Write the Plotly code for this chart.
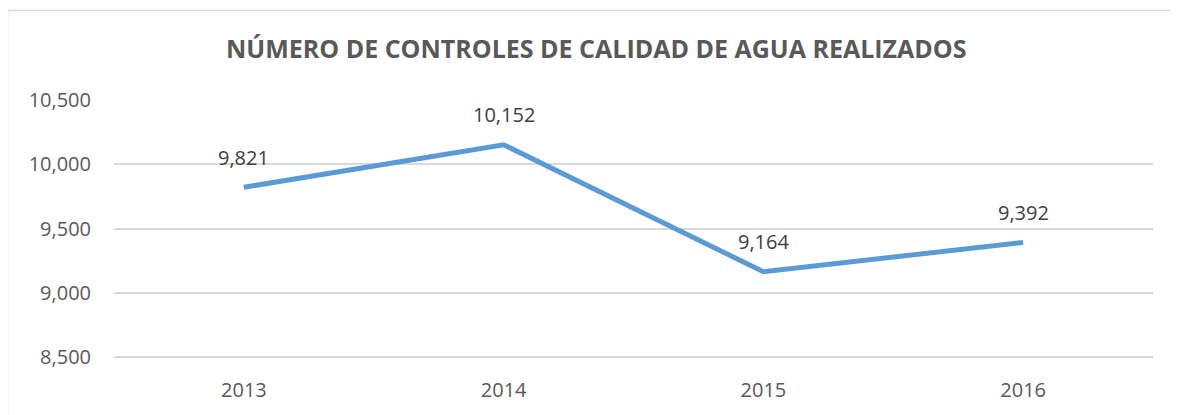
import plotly.graph_objects as go

years = ["2013", "2014", "2015", "2016"]
values = [9821, 10152, 9164, 9392]
y_ticks = [8500, 9000, 9500, 10000, 10500]
title_text = "NÚMERO DE CONTROLES DE CALIDAD DE AGUA REALIZADOS"

LINE = "#5B9BD5"
TXT = "#595959"
GRID = "#D9D9D9"
FONT = "Open Sans"

fig = go.Figure()
fig.add_trace(go.Scatter(
    x=years, y=values, mode="lines",
    line=dict(color=LINE, width=5),
    hoverinfo="skip", showlegend=False,
))

for i, v in enumerate(values):
    fig.add_annotation(
        x=i, y=v, xref="x", yref="y", text=f"{v:,}", showarrow=False,
        yshift=30, font=dict(family=FONT, size=20, color="#404040"),
    )

fig.add_annotation(
    xref="paper", yref="paper", x=0.464, y=1.2, yanchor="middle",
    text=f"<b>{title_text}</b>", showarrow=False,
    font=dict(family=FONT, size=25, color=TXT),
)

# chart border (left and top edges visible)
fig.add_shape(type="line", xref="paper", yref="paper",
              x0=-0.1025, x1=-0.1025, y0=-1, y1=1.346,
              line=dict(color=GRID, width=1.5))
fig.add_shape(type="line", xref="paper", yref="paper",
              x0=-0.1025, x1=1.5, y0=1.346, y1=1.346,
              line=dict(color=GRID, width=1.5))

fig.update_layout(
    width=1170, height=407,
    margin=dict(l=106, r=25, t=92, b=56),
    paper_bgcolor="white", plot_bgcolor="white",
    font=dict(family=FONT, color=TXT, size=20),
    xaxis=dict(type="category", range=[-0.5, 3.5], showgrid=False,
               showline=False, ticks="", ticklabelstandoff=17,
               tickfont=dict(size=20, color=TXT)),
    yaxis=dict(range=[8485, 10500], tickvals=y_ticks,
               tickformat=",d", showgrid=True, gridcolor=GRID, gridwidth=1.5,
               zeroline=False, showline=False, ticks="",
               ticklabelstandoff=22,
               tickfont=dict(size=20, color=TXT)),
)

fig.write_html("out.html")
